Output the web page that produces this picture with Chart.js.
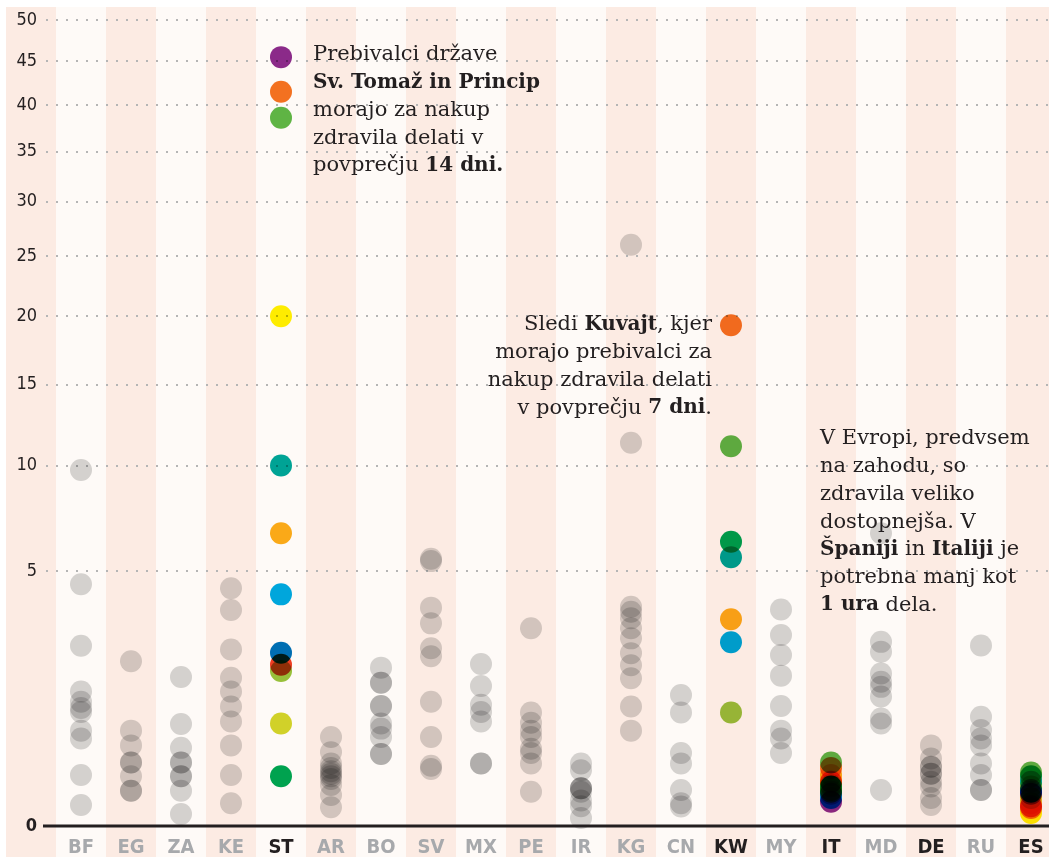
<!DOCTYPE html>
<html>
<head>
<meta charset="utf-8">
<script src="https://cdn.jsdelivr.net/npm/chart.js@4.4.1/dist/chart.umd.min.js"></script>
<style>
  html, body { margin: 0; padding: 0; background: #fff; }
  #wrap { width: 1049px; height: 857px; }
</style>
</head>
<body>
<div id="wrap"><canvas id="graf"></canvas></div>
<script>
// drzave (os x) in oznake osi y
const countries = ['BF','EG','ZA','KE','ST','AR','BO','SV','MX','PE','IR','KG','CN','KW','MY','IT','MD','DE','RU','ES'];
const highlighted = ['ST','KW','IT','DE','ES'];
const yTicks = [0, 5, 10, 15, 20, 25, 30, 35, 40, 45, 50];

// sive tocke - dnevi dela za posamezno zdravilo
const grayBF = [9.75, 4.5, 2.5, 1.39, 1.19, 1.07, 1.0, 0.70, 0.59, 0.20, 0.034];
const grayEG = [2.09, 0.70, 0.50, 0.31, 0.31, 0.19, 0.096, 0.096];
const grayZA = [1.71, 0.80, 0.47, 0.31, 0.31, 0.19, 0.19, 0.096, 0.011];
const grayKE = [4.35, 3.59, 2.40, 1.69, 1.39, 1.10, 0.84, 0.50, 0.20, 0.04];
const grayAR = [0.61, 0.42, 0.30, 0.26, 0.23, 0.21, 0.19, 0.17, 0.13, 0.074, 0.027];
const grayBO = [1.93, 1.58, 1.58, 1.11, 1.11, 0.81, 0.73, 0.61, 0.40, 0.40];
const graySV = [5.5, 5.4, 3.67, 3.16, 2.43, 2.22, 1.19, 0.61, 0.28, 0.25];
const grayMX = [2.02, 1.51, 1.13, 1.0, 0.84, 0.30, 0.30];
const grayPE = [3.01, 0.99, 0.82, 0.70, 0.61, 0.46, 0.41, 0.30, 0.09];
const grayIR = [0.30, 0.24, 0.11, 0.11, 0.11, 0.09, 0.05, 0.03, 0.005];
const grayKG = [26, 11.3, 3.70, 3.53, 3.32, 3.01, 2.71, 2.30, 1.99, 1.68, 1.10, 0.70];
const grayCN = [1.32, 0.99, 0.41, 0.30, 0.10, 0.04, 0.029];
const grayMY = [3.61, 2.81, 2.25, 1.74, 1.11, 0.70, 0.59, 0.41];
const grayMD = [6.6, 2.61, 2.34, 1.79, 1.60, 1.49, 1.29, 0.89, 0.81, 0.10];
const grayDE = [0.50, 0.35, 0.27, 0.27, 0.21, 0.21, 0.15, 0.12, 0.06, 0.034];
const grayRU = [2.51, 0.92, 0.71, 0.59, 0.50, 0.30, 0.20, 0.10, 0.10];

// barvna zdravila: vijolicna, oranzna, zelena, rumena, turkizna, jantarna, modra, temno modra, rdeca, limeta, rumeno-zelena, temno zelena
const seriesColors = ['#8c2a8d','#f47321','#5fb846','#fff100','#00a69a','#fbad18','#00a9e3','#0070b8','#ef3e23','#99c43c','#d2d52a','#00a551'];
const valST = [45.5, 41.5, 38.6, 20, 10, 6.6, 4.13, 2.31, 2.0, 1.85, 0.81, 0.19];
const valKW = [null, 19.3, 11.1, null, 5.56, 3.29, 2.60, null, null, 0.99, null, 6.22];
const valIT = [0.045, 0.26, 0.31, 0.16, 0.12, 0.2, 0.06, 0.08, 0.15, 0.1, 0.13, 0.09];
const valES = [0.08, 0.025, 0.22, 0.013, 0.15, 0.04, 0.09, 0.1, 0.03, 0.12, 0.06, 0.19];

const grayValues = { BF: grayBF, EG: grayEG, ZA: grayZA, KE: grayKE, AR: grayAR, BO: grayBO, SV: graySV,
  MX: grayMX, PE: grayPE, IR: grayIR, KG: grayKG, CN: grayCN, MY: grayMY, MD: grayMD, DE: grayDE, RU: grayRU };
const colorValues = { ST: valST, KW: valKW, IT: valIT, ES: valES };

const TXT = '#231f20';
const sansFam = "'DejaVu Sans Condensed', Roboto, sans-serif";
const serifFam = "'DejaVu Serif', serif";

// os y s korensko skalo
class SqrtScale extends Chart.LinearScale {
  getPixelForValue(value) {
    if (value === null || isNaN(value)) return NaN;
    const a = Math.sqrt(this.min), b = Math.sqrt(this.max);
    return this.getPixelForDecimal((Math.sqrt(Math.max(value, 0)) - a) / (b - a));
  }
  getValueForPixel(pixel) {
    const a = Math.sqrt(this.min), b = Math.sqrt(this.max);
    const s = a + this.getDecimalForPixel(pixel) * (b - a);
    return s * s;
  }
}
SqrtScale.id = 'sqrt';
SqrtScale.defaults = Chart.LinearScale.defaults;
Chart.register(SqrtScale);

const datasets = [];
datasets.push({
  label: 'ostale',
  data: countries.flatMap((c, i) => (grayValues[c] || []).map(v => ({ x: i, y: v }))),
  backgroundColor: '#d5d5d5',
  pointRadius: 11,
  pointBorderWidth: 0,
  clip: false
});
seriesColors.forEach((col, k) => {
  const pts = [];
  Object.keys(colorValues).forEach(c => {
    const v = colorValues[c][k];
    if (v !== null) pts.push({ x: countries.indexOf(c), y: v });
  });
  datasets.push({ label: 'z' + k, data: pts, backgroundColor: col, pointRadius: 11, pointBorderWidth: 0, clip: false });
});

// besedilo z mesanimi odebeljenimi deli
function drawRich(ctx, parts, x, y, align) {
  const fonts = parts.map(p => p[1] ? 'bold 20px ' + serifFam : '21px ' + serifFam);
  let total = 0;
  parts.forEach((p, i) => { ctx.font = fonts[i]; total += ctx.measureText(p[0]).width; });
  let cx = align === 'right' ? x - total : x;
  parts.forEach((p, i) => {
    ctx.font = fonts[i];
    ctx.fillText(p[0], cx, y);
    cx += ctx.measureText(p[0]).width;
  });
}

const notes = [
  { col: 4, dx: 32, y: 55, align: 'left', lines: [
    [['Prebivalci države', 0]],
    [['Sv. Tomaž in Princip', 1]],
    [['morajo za nakup', 0]],
    [['zdravila delati v', 0]],
    [['povprečju ', 0], ['14 dni.', 1]] ] },
  { col: 13, dx: -19, y: 325, align: 'right', lines: [
    [['Sledi ', 0], ['Kuvajt', 1], [', kjer', 0]],
    [['morajo prebivalci za', 0]],
    [['nakup zdravila delati', 0]],
    [['v povprečju ', 0], ['7 dni', 1], ['.', 0]] ] },
  { col: 15, dx: -11, y: 439, align: 'left', lines: [
    [['V Evropi, predvsem', 0]],
    [['na zahodu, so', 0]],
    [['zdravila veliko', 0]],
    [['dostopnejša. V', 0]],
    [['Španiji', 1], [' in ', 0], ['Italiji', 1], [' je', 0]],
    [['potrebna manj kot', 0]],
    [['1 ura', 1], [' dela.', 0]] ] }
];

const ozadje = {
  id: 'ozadje',
  beforeDraw(chart) {
    const { ctx, scales: { x } } = chart;
    ctx.save();
    for (let i = -1; i <= countries.length; i++) {
      const l = x.getPixelForValue(i - 0.5), r = x.getPixelForValue(i + 0.5);
      ctx.fillStyle = (i % 2 !== 0) ? '#fcebe3' : '#fefaf7';
      ctx.fillRect(l, 7, r - l, chart.height - 7);
    }
    ctx.restore();
  },
  beforeDatasetsDraw(chart) {
    chart.ctx.save();
    chart.ctx.globalCompositeOperation = 'multiply';
  },
  afterDatasetsDraw(chart) {
    const { ctx, scales: { x, y } } = chart;
    ctx.restore();
    // osnovna crta pri 0
    ctx.save();
    ctx.strokeStyle = TXT;
    ctx.lineWidth = 3;
    ctx.beginPath();
    const y0 = y.getPixelForValue(0);
    ctx.moveTo(43, y0);
    ctx.lineTo(chart.width, y0);
    ctx.stroke();
    // opombe
    ctx.fillStyle = TXT;
    ctx.textBaseline = 'middle';
    notes.forEach(n => {
      const px = x.getPixelForValue(n.col) + n.dx;
      n.lines.forEach((ln, j) => drawRich(ctx, ln, px, n.y + j * 27.7, n.align));
    });
    ctx.restore();
  }
};

new Chart(document.getElementById('graf'), {
  type: 'scatter',
  data: { datasets },
  options: {
    responsive: true,
    maintainAspectRatio: false,
    animation: false,
    events: [],
    layout: { autoPadding: false, padding: { top: 20, left: 0, right: 0, bottom: 0 } },
    plugins: { legend: { display: false }, tooltip: { enabled: false } },
    scales: {
      x: {
        type: 'linear',
        min: -0.5,
        max: -0.5 + 993 / 50,
        afterBuildTicks: s => { s.ticks = countries.map((c, i) => ({ value: i })); },
        afterFit: s => { s.height = 31; },
        grid: { display: false },
        border: { display: false },
        ticks: {
          autoSkip: false,
          maxRotation: 0,
          padding: 2,
          callback: v => countries[v],
          color: c => highlighted.includes(countries[c.tick.value]) ? TXT : '#a7a9ac',
          font: { family: sansFam, size: 20, weight: 'bold' }
        }
      },
      y: {
        type: 'sqrt',
        min: 0,
        max: 50,
        afterBuildTicks: s => { s.ticks = yTicks.map(v => ({ value: v })); },
        afterFit: s => { s.width = 56; },
        grid: {
          color: c => c.tick && c.tick.value === 0 ? 'rgba(0,0,0,0)' : '#b5b5b5',
          lineWidth: 2,
          tickLength: 10,
          tickColor: c => c.tick && c.tick.value === 0 ? 'rgba(0,0,0,0)' : '#b5b5b5',
          tickWidth: 2,
          tickBorderDash: [2, 8]
        },
        border: { display: false, dash: [2, 8] },
        ticks: {
          padding: 9,
          color: TXT,
          callback: v => String(v),
          font: c => ({ family: sansFam, size: 18, weight: c.tick && c.tick.value === 0 ? 'bold' : 'normal' })
        }
      }
    }
  },
  plugins: [ozadje]
});
</script>
</body>
</html>
